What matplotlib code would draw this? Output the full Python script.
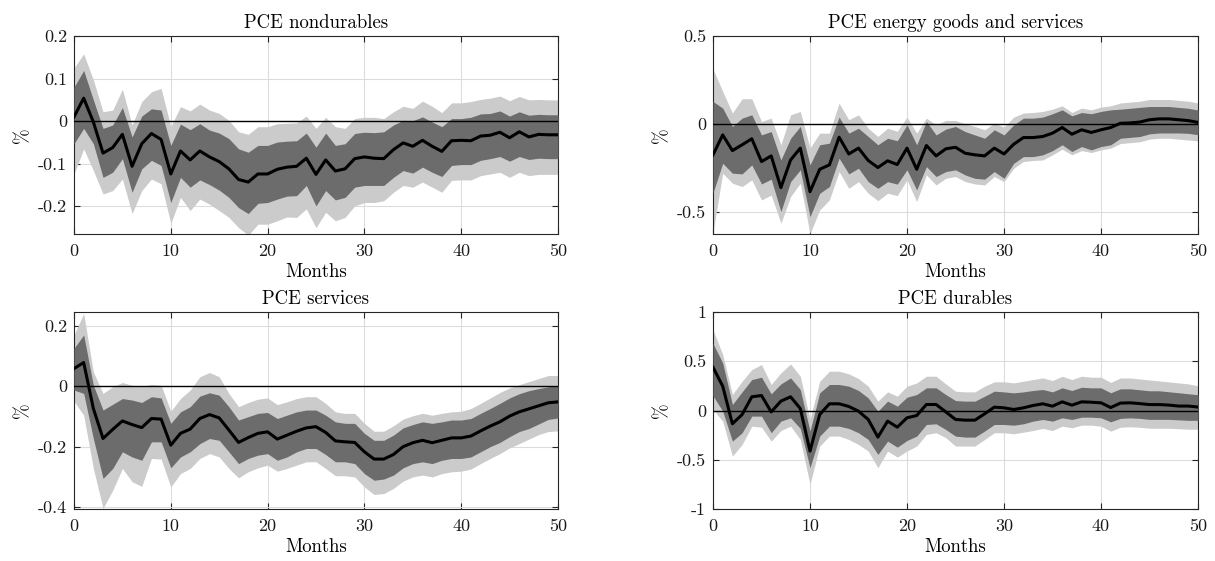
import matplotlib
matplotlib.use("Agg")
import matplotlib.pyplot as plt
from matplotlib.ticker import FuncFormatter
import numpy as np

plt.rcParams['font.family'] = 'serif'
plt.rcParams['font.serif'] = ['cmr10']
plt.rcParams['axes.unicode_minus'] = False
plt.rcParams['mathtext.fontset'] = 'cm'

months = list(range(51))
titles = ["PCE nondurables", "PCE energy goods and services", "PCE services", "PCE durables"]
x_ticks = [0, 10, 20, 30, 40, 50]

# ---- PCE nondurables ----
nd_med = [0.010, 0.054, -0.002, -0.075, -0.062, -0.031, -0.106, -0.053, -0.029, -0.043, -0.124, -0.070, -0.091, -0.070, -0.084, -0.095, -0.112, -0.137, -0.143, -0.124, -0.124, -0.113, -0.108, -0.106, -0.087, -0.125, -0.091, -0.117, -0.112, -0.088, -0.084, -0.087, -0.088, -0.067, -0.051, -0.059, -0.045, -0.059, -0.071, -0.046, -0.045, -0.046, -0.035, -0.033, -0.026, -0.039, -0.025, -0.037, -0.031, -0.032, -0.032]
nd_in_hi = [0.080, 0.119, 0.050, -0.017, -0.009, 0.032, -0.037, 0.012, 0.029, 0.026, -0.057, -0.007, -0.020, -0.006, -0.021, -0.028, -0.041, -0.065, -0.073, -0.057, -0.057, -0.049, -0.047, -0.046, -0.028, -0.061, -0.028, -0.057, -0.053, -0.029, -0.026, -0.027, -0.025, -0.009, 0.002, 0.001, 0.010, -0.002, -0.013, 0.006, 0.006, 0.009, 0.017, 0.018, 0.024, 0.012, 0.022, 0.014, 0.016, 0.015, 0.015]
nd_in_lo = [-0.053, -0.017, -0.053, -0.132, -0.120, -0.088, -0.167, -0.112, -0.092, -0.104, -0.191, -0.132, -0.155, -0.138, -0.149, -0.162, -0.179, -0.203, -0.217, -0.193, -0.191, -0.183, -0.176, -0.175, -0.151, -0.199, -0.163, -0.185, -0.179, -0.155, -0.151, -0.151, -0.151, -0.132, -0.116, -0.122, -0.108, -0.120, -0.130, -0.104, -0.102, -0.102, -0.092, -0.088, -0.083, -0.094, -0.083, -0.090, -0.087, -0.088, -0.088]
nd_out_hi = [0.125, 0.158, 0.097, 0.022, 0.026, 0.075, -0.009, 0.046, 0.069, 0.077, -0.013, 0.034, 0.024, 0.040, 0.026, 0.018, 0.002, -0.025, -0.031, -0.013, -0.013, -0.006, -0.005, -0.004, 0.012, -0.017, 0.009, -0.013, -0.017, 0.006, 0.009, 0.009, 0.006, 0.022, 0.035, 0.030, 0.047, 0.035, 0.020, 0.043, 0.043, 0.046, 0.051, 0.054, 0.059, 0.048, 0.058, 0.050, 0.051, 0.050, 0.050]
nd_out_lo = [-0.124, -0.065, -0.116, -0.171, -0.163, -0.136, -0.217, -0.163, -0.136, -0.147, -0.240, -0.179, -0.210, -0.183, -0.195, -0.210, -0.226, -0.250, -0.268, -0.242, -0.242, -0.234, -0.225, -0.226, -0.206, -0.250, -0.214, -0.234, -0.226, -0.199, -0.191, -0.191, -0.187, -0.167, -0.151, -0.155, -0.143, -0.155, -0.167, -0.139, -0.138, -0.138, -0.128, -0.124, -0.120, -0.132, -0.120, -0.128, -0.125, -0.125, -0.125]

# ---- PCE energy goods and services ----
en_med = [-0.174, -0.061, -0.150, -0.117, -0.083, -0.212, -0.180, -0.360, -0.203, -0.136, -0.383, -0.256, -0.231, -0.074, -0.169, -0.136, -0.206, -0.246, -0.208, -0.229, -0.136, -0.256, -0.121, -0.180, -0.140, -0.131, -0.165, -0.174, -0.180, -0.136, -0.169, -0.114, -0.076, -0.076, -0.070, -0.051, -0.019, -0.057, -0.032, -0.047, -0.032, -0.019, 0.005, 0.007, 0.012, 0.025, 0.030, 0.030, 0.025, 0.020, 0.010]
en_in_hi = [0.129, 0.091, -0.013, 0.034, 0.053, -0.061, -0.042, -0.203, -0.080, -0.013, -0.231, -0.117, -0.108, 0.040, -0.051, -0.023, -0.070, -0.117, -0.080, -0.094, -0.004, -0.117, 0.015, -0.061, -0.028, -0.013, -0.042, -0.061, -0.080, -0.032, -0.061, -0.004, 0.034, 0.034, 0.040, 0.059, 0.081, 0.047, 0.066, 0.059, 0.072, 0.081, 0.085, 0.090, 0.095, 0.100, 0.100, 0.100, 0.095, 0.090, 0.080]
en_in_lo = [-0.390, -0.222, -0.278, -0.282, -0.231, -0.339, -0.312, -0.496, -0.326, -0.259, -0.525, -0.392, -0.354, -0.193, -0.282, -0.250, -0.326, -0.364, -0.326, -0.340, -0.259, -0.373, -0.241, -0.297, -0.269, -0.259, -0.288, -0.307, -0.312, -0.269, -0.307, -0.222, -0.184, -0.184, -0.174, -0.150, -0.117, -0.155, -0.127, -0.146, -0.127, -0.117, -0.080, -0.075, -0.070, -0.055, -0.050, -0.050, -0.050, -0.052, -0.060]
en_out_hi = [0.313, 0.186, 0.063, 0.144, 0.144, 0.015, 0.034, -0.117, 0.053, 0.072, -0.136, -0.051, -0.051, 0.119, 0.025, 0.053, -0.023, -0.070, -0.023, -0.040, 0.040, -0.051, 0.034, -0.004, 0.021, 0.021, 0.002, -0.013, -0.032, 0.006, -0.017, 0.040, 0.063, 0.066, 0.072, 0.085, 0.104, 0.066, 0.091, 0.081, 0.097, 0.104, 0.120, 0.125, 0.130, 0.140, 0.140, 0.140, 0.135, 0.130, 0.120]
en_out_lo = [-0.615, -0.278, -0.335, -0.354, -0.316, -0.430, -0.402, -0.562, -0.411, -0.335, -0.620, -0.487, -0.430, -0.269, -0.364, -0.326, -0.392, -0.434, -0.392, -0.405, -0.316, -0.439, -0.288, -0.345, -0.307, -0.297, -0.326, -0.339, -0.345, -0.297, -0.326, -0.250, -0.212, -0.206, -0.203, -0.174, -0.142, -0.174, -0.150, -0.161, -0.146, -0.136, -0.110, -0.105, -0.100, -0.085, -0.080, -0.080, -0.085, -0.090, -0.095]

# ---- PCE services ----
sv_med = [0.058, 0.078, -0.074, -0.173, -0.143, -0.115, -0.127, -0.137, -0.107, -0.109, -0.195, -0.156, -0.142, -0.107, -0.094, -0.105, -0.145, -0.186, -0.170, -0.156, -0.151, -0.175, -0.162, -0.149, -0.138, -0.134, -0.153, -0.181, -0.184, -0.186, -0.217, -0.241, -0.241, -0.226, -0.200, -0.187, -0.179, -0.187, -0.179, -0.171, -0.171, -0.165, -0.148, -0.132, -0.118, -0.099, -0.085, -0.075, -0.065, -0.055, -0.052]
sv_in_hi = [0.125, 0.169, 0.003, -0.079, -0.060, -0.041, -0.046, -0.054, -0.035, -0.039, -0.123, -0.085, -0.068, -0.033, -0.022, -0.030, -0.068, -0.112, -0.101, -0.090, -0.087, -0.107, -0.096, -0.085, -0.079, -0.079, -0.096, -0.118, -0.123, -0.123, -0.156, -0.179, -0.179, -0.162, -0.138, -0.127, -0.118, -0.123, -0.118, -0.112, -0.112, -0.107, -0.090, -0.074, -0.057, -0.039, -0.025, -0.015, -0.008, -0.002, 0.000]
sv_in_lo = [-0.013, -0.024, -0.173, -0.305, -0.272, -0.217, -0.234, -0.245, -0.184, -0.184, -0.270, -0.234, -0.217, -0.190, -0.173, -0.179, -0.217, -0.256, -0.239, -0.228, -0.223, -0.245, -0.234, -0.217, -0.206, -0.206, -0.226, -0.250, -0.250, -0.256, -0.289, -0.311, -0.307, -0.294, -0.270, -0.256, -0.250, -0.256, -0.245, -0.239, -0.239, -0.234, -0.217, -0.200, -0.186, -0.167, -0.150, -0.140, -0.125, -0.110, -0.105]
sv_out_hi = [0.169, 0.240, 0.047, -0.024, -0.002, 0.012, 0.003, -0.002, 0.006, 0.003, -0.083, -0.041, -0.013, 0.031, 0.045, 0.031, -0.024, -0.068, -0.054, -0.043, -0.039, -0.061, -0.052, -0.041, -0.035, -0.035, -0.057, -0.085, -0.090, -0.090, -0.123, -0.149, -0.149, -0.131, -0.109, -0.098, -0.090, -0.096, -0.090, -0.085, -0.083, -0.074, -0.057, -0.039, -0.021, -0.006, 0.005, 0.015, 0.025, 0.035, 0.035]
sv_out_lo = [-0.050, -0.096, -0.272, -0.404, -0.344, -0.272, -0.316, -0.331, -0.239, -0.241, -0.333, -0.289, -0.272, -0.239, -0.223, -0.234, -0.272, -0.303, -0.283, -0.270, -0.261, -0.281, -0.272, -0.261, -0.250, -0.250, -0.272, -0.296, -0.296, -0.300, -0.333, -0.358, -0.355, -0.338, -0.314, -0.300, -0.294, -0.300, -0.289, -0.283, -0.281, -0.274, -0.256, -0.239, -0.223, -0.204, -0.190, -0.175, -0.160, -0.150, -0.148]

# ---- PCE durables ----
du_med = [0.439, 0.247, -0.135, -0.041, 0.139, 0.152, -0.014, 0.095, 0.139, 0.020, -0.412, -0.041, 0.068, 0.068, 0.041, -0.007, -0.091, -0.270, -0.108, -0.169, -0.074, -0.051, 0.061, 0.061, -0.014, -0.091, -0.098, -0.098, -0.034, 0.034, 0.027, 0.010, 0.027, 0.051, 0.068, 0.044, 0.088, 0.054, 0.088, 0.084, 0.078, 0.030, 0.075, 0.078, 0.070, 0.060, 0.060, 0.055, 0.045, 0.045, 0.035]
du_in_hi = [0.680, 0.483, 0.061, 0.189, 0.314, 0.338, 0.169, 0.270, 0.331, 0.213, -0.209, 0.179, 0.264, 0.264, 0.247, 0.203, 0.128, -0.007, 0.095, 0.044, 0.135, 0.162, 0.230, 0.230, 0.162, 0.101, 0.095, 0.095, 0.145, 0.196, 0.189, 0.179, 0.189, 0.203, 0.213, 0.189, 0.230, 0.203, 0.236, 0.230, 0.230, 0.180, 0.220, 0.220, 0.210, 0.200, 0.200, 0.190, 0.180, 0.170, 0.160]
du_in_lo = [0.150, -0.007, -0.311, -0.226, -0.057, -0.057, -0.226, -0.108, -0.074, -0.182, -0.581, -0.260, -0.159, -0.159, -0.182, -0.226, -0.294, -0.446, -0.311, -0.372, -0.304, -0.260, -0.142, -0.135, -0.193, -0.260, -0.270, -0.270, -0.209, -0.142, -0.142, -0.149, -0.135, -0.108, -0.091, -0.108, -0.074, -0.091, -0.068, -0.068, -0.074, -0.115, -0.080, -0.075, -0.080, -0.090, -0.090, -0.090, -0.095, -0.100, -0.100]
du_out_hi = [0.820, 0.568, 0.162, 0.297, 0.416, 0.466, 0.264, 0.382, 0.473, 0.348, -0.091, 0.297, 0.399, 0.399, 0.372, 0.324, 0.247, 0.095, 0.189, 0.145, 0.247, 0.280, 0.348, 0.348, 0.270, 0.196, 0.189, 0.189, 0.247, 0.291, 0.291, 0.280, 0.297, 0.314, 0.331, 0.304, 0.348, 0.314, 0.348, 0.338, 0.338, 0.285, 0.330, 0.330, 0.320, 0.310, 0.300, 0.290, 0.280, 0.270, 0.250]
du_out_lo = [0.010, -0.108, -0.463, -0.345, -0.159, -0.169, -0.311, -0.203, -0.159, -0.294, -0.750, -0.361, -0.260, -0.260, -0.294, -0.345, -0.412, -0.581, -0.412, -0.473, -0.412, -0.361, -0.243, -0.226, -0.277, -0.361, -0.361, -0.361, -0.294, -0.226, -0.226, -0.236, -0.220, -0.203, -0.182, -0.203, -0.159, -0.176, -0.149, -0.149, -0.159, -0.210, -0.170, -0.165, -0.170, -0.180, -0.180, -0.180, -0.185, -0.190, -0.190]

y_limits = [(-0.265, 0.2), (-0.623, 0.5), (-0.406, 0.245), (-1.0, 1.0)]
y_ticks = [[-0.2, -0.1, 0, 0.1, 0.2], [-0.5, 0, 0.5], [-0.4, -0.2, 0, 0.2], [-1, -0.5, 0, 0.5, 1]]

panels = [
    (nd_med, nd_in_lo, nd_in_hi, nd_out_lo, nd_out_hi),
    (en_med, en_in_lo, en_in_hi, en_out_lo, en_out_hi),
    (sv_med, sv_in_lo, sv_in_hi, sv_out_lo, sv_out_hi),
    (du_med, du_in_lo, du_in_hi, du_out_lo, du_out_hi),
]

W, H = 1215, 561
fig = plt.figure(figsize=(W / 100, H / 100), dpi=100)
fig.patch.set_facecolor('white')

# axes boxes in pixels: (left, top, right, bottom)
boxes = [(74, 36, 558, 234), (713, 36, 1198, 234), (74, 312, 558, 509), (713, 312, 1198, 509)]

fmt = FuncFormatter(lambda v, p: ('%g' % round(v, 6)))

for i, (box, data) in enumerate(zip(boxes, panels)):
    l, t, r, b = box
    ax = fig.add_axes([l / W, 1 - b / H, (r - l) / W, (b - t) / H])
    med, ilo, ihi, olo, ohi = data
    ax.fill_between(months, olo, ohi, color='#cbcbcb', linewidth=0, zorder=2)
    ax.fill_between(months, ilo, ihi, color='#6c6c6c', linewidth=0, zorder=3)
    ax.axhline(0, color='black', linewidth=1.0, zorder=4)
    ax.plot(months, med, color='black', linewidth=2.2, zorder=5)
    ax.set_xlim(0, 50)
    ax.set_ylim(*y_limits[i])
    ax.set_xticks(x_ticks)
    ax.set_yticks(y_ticks[i])
    ax.yaxis.set_major_formatter(fmt)
    ax.xaxis.set_major_formatter(fmt)
    ax.grid(True, color='#dcdcdc', linewidth=0.8)
    ax.set_axisbelow(True)
    ax.tick_params(direction='in', top=True, right=True, length=4, width=0.8,
                   labelsize=13, colors='#262626', labelcolor='#1a1a1a')
    ax.tick_params(axis='x', pad=7)
    ax.tick_params(axis='y', pad=5)
    for sp in ax.spines.values():
        sp.set_color('#262626')
        sp.set_linewidth(0.8)
    ax.set_title(titles[i], fontsize=13.5, pad=6)
    ax.set_xlabel('Months', fontsize=13.5, labelpad=3)
    ax.set_ylabel('%', fontsize=13.5, labelpad=4)

fig.savefig('out.png', dpi=100, facecolor='white')
